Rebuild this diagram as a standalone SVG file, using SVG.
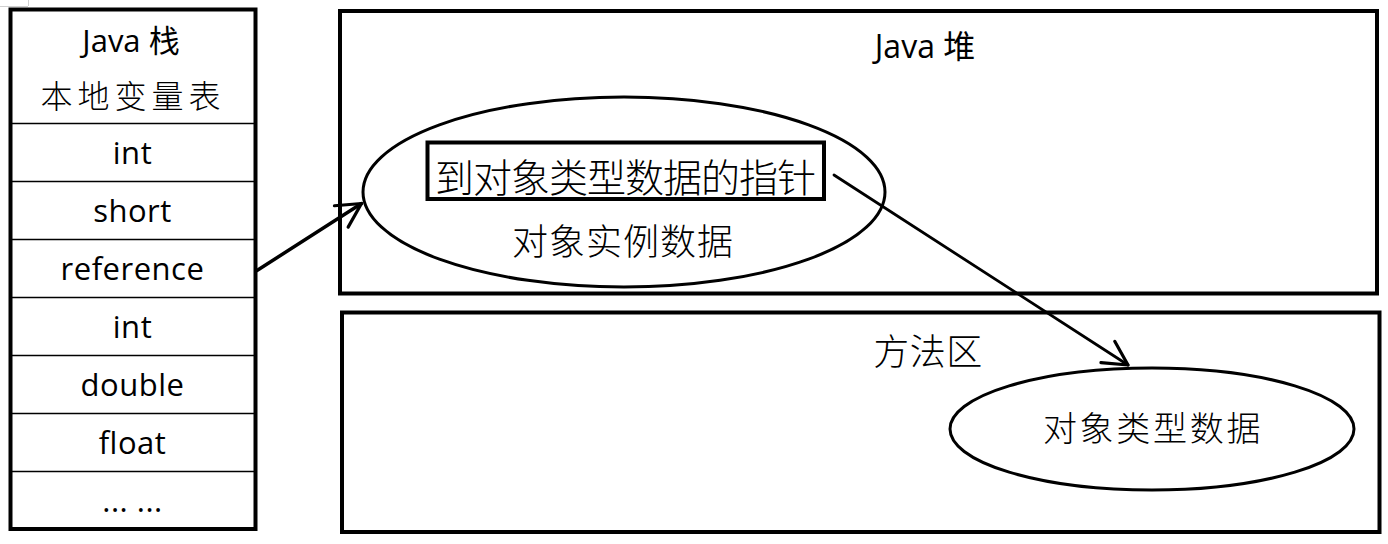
<svg xmlns="http://www.w3.org/2000/svg" width="1388" height="544" viewBox="0 0 1388 544">
  <style>
    .box { fill: #fff; stroke: #000; stroke-width: 4; }
    .thin { stroke: #000; stroke-width: 1.5; }
    .lat { font-family: "Open Sans", "Noto Sans CJK SC", sans-serif; fill: #000; text-anchor: middle; }
    .cjk { font-family: "Noto Sans CJK SC", sans-serif; font-weight: 300; fill: #000; text-anchor: middle; }
    .ell { fill: none; stroke: #000; stroke-width: 3; }
    .conn { fill: none; stroke: #000; stroke-linecap: round; }
  </style>
  <defs>
    <marker id="arrow" markerUnits="userSpaceOnUse" viewBox="-30 -16 34 32" refX="0" refY="0" markerWidth="34" markerHeight="32" orient="auto" overflow="visible">
      <path d="M -24 -12.7 L 0 0 L -24 12.7" fill="none" stroke="#000" stroke-width="3.2" stroke-linecap="round" stroke-linejoin="round"/>
    </marker>
  </defs>
  <rect width="1388" height="544" fill="#fff"/>
  <g id="corner-mark" stroke="#d0d0d0" stroke-width="1">
    <line x1="28.5" y1="0" x2="28.5" y2="6"/>
    <line x1="0" y1="6.5" x2="28" y2="6.5"/>
  </g>

  <g id="java-stack">
    <rect class="box" x="10.5" y="9.5" width="245" height="519.5" stroke-width="3"/>
    <line class="thin" x1="12" y1="123.5" x2="254" y2="123.5"/>
    <line class="thin" x1="12" y1="181.5" x2="254" y2="181.5"/>
    <line class="thin" x1="12" y1="239.5" x2="254" y2="239.5"/>
    <line class="thin" x1="12" y1="297.5" x2="254" y2="297.5"/>
    <line class="thin" x1="12" y1="355.5" x2="254" y2="355.5"/>
    <line class="thin" x1="12" y1="413.5" x2="254" y2="413.5"/>
    <line class="thin" x1="12" y1="471.5" x2="254" y2="471.5"/>
    <text class="lat" x="131" y="52" font-size="31">Java 栈</text>
    <text class="cjk" x="133" y="108" font-size="32" letter-spacing="5">本地变量表</text>
    <text class="lat" x="132.5" y="164" font-size="31" letter-spacing="0.5">int</text>
    <text class="lat" x="132.5" y="222" font-size="31" letter-spacing="0.5">short</text>
    <text class="lat" x="132.5" y="280" font-size="31" letter-spacing="0.5">reference</text>
    <text class="lat" x="132.5" y="338" font-size="31" letter-spacing="0.5">int</text>
    <text class="lat" x="132.5" y="396" font-size="31" letter-spacing="0.5">double</text>
    <text class="lat" x="132.5" y="454" font-size="31" letter-spacing="0.5">float</text>
    <text class="lat" x="132.5" y="512" font-size="31" letter-spacing="0.5">... ...</text>
  </g>

  <g id="java-heap">
    <rect class="box" x="340" y="11" width="1037" height="282.5"/>
    <text class="lat" x="925" y="58" font-size="32">Java 堆</text>
  </g>

  <g id="object-instance-data">
    <ellipse class="ell" cx="624" cy="192" rx="261" ry="95"/>
    <text class="cjk" x="623" y="255" font-size="36" letter-spacing="1">对象实例数据</text>
  </g>

  <g id="type-pointer">
    <rect class="box" x="427.5" y="142.5" width="396.5" height="56.5" stroke-width="4.5"/>
    <text class="cjk" x="625" y="192" font-size="39" letter-spacing="-1">到对象类型数据的指针</text>
  </g>

  <g id="method-area">
    <rect class="box" x="342" y="312.5" width="1037.5" height="219.5"/>
    <text class="cjk" x="928" y="365" font-size="36" letter-spacing="0.5">方法区</text>
  </g>

  <g id="object-type-data">
    <ellipse class="ell" cx="1152" cy="429" rx="202" ry="61"/>
    <text class="cjk" x="1153" y="441" font-size="34" letter-spacing="2.7">对象类型数据</text>
  </g>

  <g id="connectors">
    <path class="conn" d="M 257 270.5 L 361.5 203.5" stroke-width="3.5" marker-end="url(#arrow)"/>
    <path class="conn" d="M 834 175 L 1128 365" stroke-width="2.8" marker-end="url(#arrow)"/>
  </g>
</svg>
